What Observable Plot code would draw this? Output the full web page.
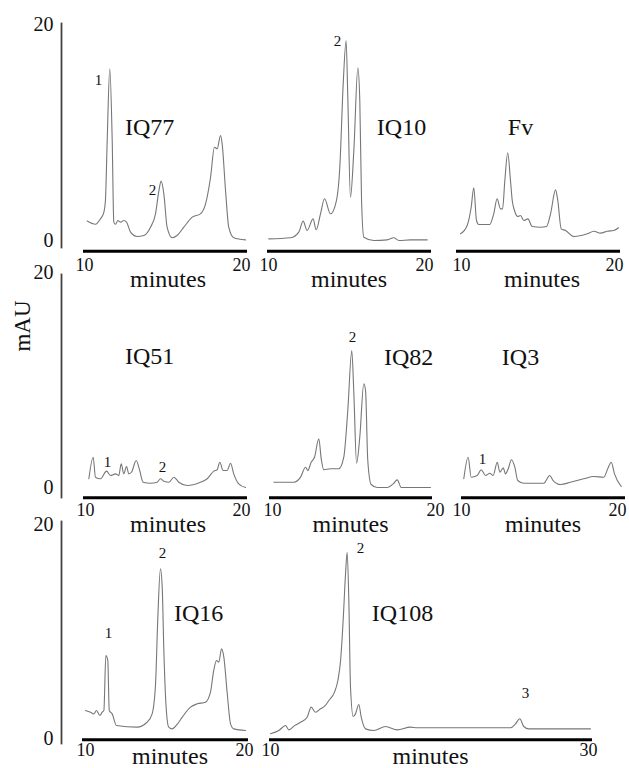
<!DOCTYPE html>
<html><head><meta charset="utf-8">
<script src="https://cdn.jsdelivr.net/npm/d3@7"></script>
<script src="https://cdn.jsdelivr.net/npm/@observablehq/plot@0.6"></script>
<style>
html,body{margin:0;padding:0;background:#fff;}
#chart{position:relative;width:629px;height:768px;overflow:hidden;font-family:"Liberation Serif","Times New Roman",Times,serif;}
#chart svg{position:absolute;left:0;top:0;}
#chart svg text{font-family:"Liberation Serif","Times New Roman",Times,serif;}
#mau{position:absolute;left:23px;top:326px;transform:translate(-50%,-50%) rotate(-90deg);font-size:23px;white-space:nowrap;color:#111;}
</style></head><body>
<div id="chart"><div id="mau">mAU</div></div>
<script>
// ---- data: retention time (minutes) and absorbance (mAU) ----
const IQ77_t = [10.17,10.68,10.99,11.2,11.3,11.41,11.57,11.72,11.82,11.93,12.07,12.24,12.44,12.61,12.86,13.27,13.68,14.1,14.41,14.62,14.76,14.93,15.13,15.45,15.75,16.17,16.69,17.2,17.52,17.83,18.07,18.24,18.45,18.55,18.76,18.96,19.27,20.0];
const IQ77_mAU = [1.8,1.5,2.0,2.6,3.7,9.3,15.9,9.3,1.7,1.5,1.85,1.7,1.85,1.7,0.77,0.37,0.46,1.23,2.47,4.6,5.5,4.3,1.23,0.25,0.46,1.23,2.16,2.47,3.4,5.86,8.64,8.49,9.72,8.95,4.63,1.23,0.25,0.06];

const IQ10_t = [10.02,11.37,11.88,12.15,12.4,12.77,12.96,13.23,13.48,13.85,14.22,14.43,14.64,14.82,14.93,15.09,15.3,15.55,15.67,15.78,15.92,16.54,17.37,17.78,18.1,18.8,19.86];
const IQ10_mAU = [0.15,0.25,0.77,1.79,0.93,2.0,0.99,2.47,3.86,2.47,3.7,6.8,14.5,18.5,13,4.0,8.3,16.0,13,3.7,0.3,0.0,0.06,0.25,0.0,0.06,0.06];

const Fv_t = [10.19,10.6,10.85,11.01,11.18,11.32,12.0,12.25,12.46,12.67,12.8,12.94,13.12,13.29,13.4,13.54,13.75,13.91,14.12,14.37,14.64,15.16,15.53,15.78,16.09,16.23,16.44,16.71,17.23,18.06,18.47,18.88,19.3,19.71,20.0];
const Fv_mAU = [0.62,1.39,3.08,4.88,1.85,1.48,1.48,2.47,3.86,2.93,2.93,5.56,8.12,5.56,3.7,2.78,2.22,2.31,1.85,2.0,1.3,1.23,1.3,2.47,4.69,3.7,1.08,0.93,0.37,0.62,0.86,0.68,0.86,0.93,1.18];

const IQ51_t = [10.27,10.54,10.68,10.99,11.37,11.61,11.93,12.13,12.28,12.44,12.61,12.75,12.92,13.21,13.43,13.64,14.1,14.51,14.72,14.93,15.24,15.55,15.86,16.38,17.2,17.62,18.03,18.24,18.4,18.61,18.86,19.07,19.27,19.58,20.0];
const IQ51_mAU = [0.81,2.82,0.96,0.81,1.52,1.12,1.27,1.12,2.2,1.27,1.95,1.27,1.42,2.51,1.58,0.49,0.4,0.49,0.81,0.59,0.49,0.96,0.49,0.19,0.49,0.81,1.52,1.65,2.35,1.58,1.58,2.26,1.27,0.34,0.0];

const IQ82_t = [10.21,11.46,11.88,12.19,12.33,12.54,12.75,13.02,13.17,13.33,13.75,14.27,14.58,14.83,15.08,15.21,15.38,15.58,15.83,15.94,16.08,16.29,16.67,17.29,17.67,17.92,18.17,18.75,20.0];
const IQ82_mAU = [0.49,0.49,0.96,1.89,1.58,2.35,2.82,4.53,2.67,1.65,1.74,1.74,2.82,7.16,12.74,8.72,2.26,4.68,9.65,9.02,2.51,0.28,0.0,0.0,0.34,0.71,0.0,0.0,0.0];

const IQ3_t = [10.08,10.35,10.54,10.91,11.16,11.43,11.7,11.9,12.16,12.32,12.53,12.67,12.84,13.04,13.25,13.43,13.81,15.05,15.42,15.63,16.09,16.71,17.53,18.16,18.78,19.02,19.24,19.44,19.86];
const IQ3_mAU = [0.81,2.82,0.96,1.12,1.65,1.12,1.33,1.12,2.35,1.42,1.83,1.27,1.74,2.58,1.89,0.65,0.4,0.4,1.12,0.65,0.28,0.49,0.81,1.02,0.96,1.74,2.35,1.27,0.09];

const IQ16_t = [10.12,10.43,10.63,10.8,11.0,11.15,11.25,11.37,11.49,11.58,11.76,12.02,13.29,13.9,14.21,14.42,14.56,14.72,14.83,14.93,15.07,15.23,15.44,15.74,16.06,16.56,16.98,17.48,17.79,17.99,18.16,18.3,18.47,18.61,18.82,19.02,19.22,19.94];
const IQ16_mAU = [2.62,2.46,2.3,2.62,2.15,2.46,2.62,7.76,7.3,2.62,2.3,1.21,1.06,1.52,2.3,5.1,11.3,15.86,14.1,8.2,2.9,1.06,0.9,1.31,2.0,2.93,3.24,3.39,4.33,6.36,7.29,7.13,8.38,7.6,4.18,1.37,0.9,0.75];

const IQ108_t = [10.0,10.52,10.94,11.15,11.5,11.88,12.29,12.54,12.81,13.13,13.4,13.65,14.0,14.21,14.38,14.54,14.69,14.79,14.9,15.0,15.17,15.31,15.52,15.67,15.94,16.46,17.19,17.92,18.75,19.17,21.88,25.0,25.31,25.58,25.83,26.15,30.0];
const IQ108_mAU = [0.44,0.75,1.21,0.81,1.2,1.52,1.99,2.93,2.46,2.78,3.05,3.55,4.33,5.42,7.29,11.0,15.4,17.4,12.6,4.8,2.06,2.3,3.18,1.99,0.9,0.75,1.12,0.81,1.06,1.0,1.0,1.0,1.37,1.84,1.12,0.9,0.9];

// sample names and where they are written (minutes, mAU)
const sampleNames = ["IQ77","IQ10","Fv","IQ51","IQ82","IQ3","IQ16","IQ108"];
const nameT = [14.04,18.26,13.91,14.04,18.63,13.6,17.06,18.25];
const nameV = [10.46,10.46,10.46,12.19,12.1,12.1,11.68,11.68];

// peak numbers
const peakPanel = ["IQ77","IQ77","IQ10","IQ51","IQ51","IQ82","IQ3","IQ16","IQ16","IQ108","IQ108"];
const peakText  = ["1","2","2","1","2","2","1","1","2","2","3"];
const peakT = [10.87,14.22,14.29,11.43,14.84,15.13,11.24,11.53,14.85,15.63,25.94];
const peakV = [14.8,4.63,18.5,2.33,1.86,13.95,2.6,9.81,17.3,17.76,4.2];

const yTicks = [0, 20];
const xLabel = "minutes";

// ---- layout ----
const W = 629, H = 768;
const FONT = '"Liberation Serif","Times New Roman",Times,serif';
const rows = [
  {y0:240, y20:24, axisTop:23, axisBottom:247, xLine:250.7, tickPad:7, minDy:28.6},
  {y0:487, y20:272, axisTop:274, axisBottom:497, xLine:497.3, tickPad:5, minDy:26.7},
  {y0:738, y20:524, axisTop:521, axisBottom:743, xLine:739.3, tickPad:3, minDy:16.5}
];
const panels = [
  {name:"IQ77", row:0, left:84,  right:245, t:IQ77_t, v:IQ77_mAU, domain:[10,20], dx0:0,  dx1:-4, mdx:3},
  {name:"IQ10", row:0, left:268, right:429, t:IQ10_t, v:IQ10_mAU, domain:[10,20], dx0:0,  dx1:-5, mdx:0},
  {name:"Fv",   row:0, left:457, right:618, t:Fv_t,   v:Fv_mAU,   domain:[10,20], dx0:4,  dx1:-4, mdx:4},
  {name:"IQ51", row:1, left:84,  right:245, t:IQ51_t, v:IQ51_mAU, domain:[10,20], dx0:1,  dx1:-4, mdx:3},
  {name:"IQ82", row:1, left:270, right:430, t:IQ82_t, v:IQ82_mAU, domain:[10,20], dx0:2,  dx1:5,  mdx:0},
  {name:"IQ3",  row:1, left:462, right:623, t:IQ3_t,  v:IQ3_mAU,  domain:[10,20], dx0:-1, dx1:-6, mdx:0},
  {name:"IQ16", row:2, left:83,  right:246, t:IQ16_t, v:IQ16_mAU, domain:[10,20], dx0:2,  dx1:-2, mdx:5},
  {name:"IQ108",row:2, left:270, right:590, t:IQ108_t,v:IQ108_mAU,domain:[10,30], dx0:0,  dx1:-2, mdx:0}
];
const baseStyle = {background:"transparent", fontFamily:FONT, color:"#111", overflow:"visible"};
const chart = document.getElementById("chart");

function yAxisPlot(r) {
  return Plot.plot({
    width:W, height:H,
    marginLeft:61, marginRight:W-62, marginTop:r.axisTop, marginBottom:H-r.axisBottom,
    y:{domain:[0,20], range:[r.y0, r.y20], label:null},
    style:baseStyle,
    marks:[
      Plot.frame({anchor:"left", stroke:"#444", strokeWidth:1.8}),
      Plot.axisY(yTicks, {tickSize:0, tickPadding:8, fontSize:20, fontFamily:FONT, label:null, fill:"#111"})
    ]
  });
}

function panelPlot(p) {
  const r = rows[p.row];
  const i = sampleNames.indexOf(p.name);
  const data = p.t.map((t, j) => ({t, v:p.v[j]}));
  const peaks = peakText.map((s, j) => ({s, t:peakT[j], v:peakV[j], panel:peakPanel[j]}))
    .filter(d => d.panel === p.name);
  const tickOpts = {tickSize:0, tickPadding:r.tickPad, fontSize:18, fontFamily:FONT, label:null, fill:"#111", tickFormat:d => String(d)};
  return Plot.plot({
    width:W, height:H,
    marginLeft:p.left, marginRight:W-p.right, marginTop:r.axisTop, marginBottom:H-r.xLine,
    x:{domain:p.domain, label:null},
    y:{domain:[0,20], range:[r.y0, r.y20], axis:null, label:null},
    style:baseStyle,
    marks:[
      Plot.frame({anchor:"bottom", stroke:"#000", strokeWidth:3}),
      Plot.axisX([p.domain[0]], {...tickOpts, dx:p.dx0}),
      Plot.axisX([p.domain[1]], {...tickOpts, dx:p.dx1}),
      Plot.line(data, {x:"t", y:"v", stroke:"#777", strokeWidth:1.1, curve:"monotone-x"}),
      Plot.text([{s:p.name, t:nameT[i], v:nameV[i]}], {x:"t", y:"v", text:"s", fontSize:24, fontFamily:FONT, fill:"#111"}),
      Plot.text(peaks, {x:"t", y:"v", text:"s", fontSize:15, fontFamily:FONT, fill:"#111"}),
      Plot.text([xLabel], {text:d => d, frameAnchor:"bottom", lineAnchor:"middle", dy:r.minDy, dx:p.mdx, fontSize:24, fontFamily:FONT, fill:"#111"})
    ]
  });
}

rows.forEach(r => chart.appendChild(yAxisPlot(r)));
panels.forEach(p => chart.appendChild(panelPlot(p)));
</script>
</body></html>
